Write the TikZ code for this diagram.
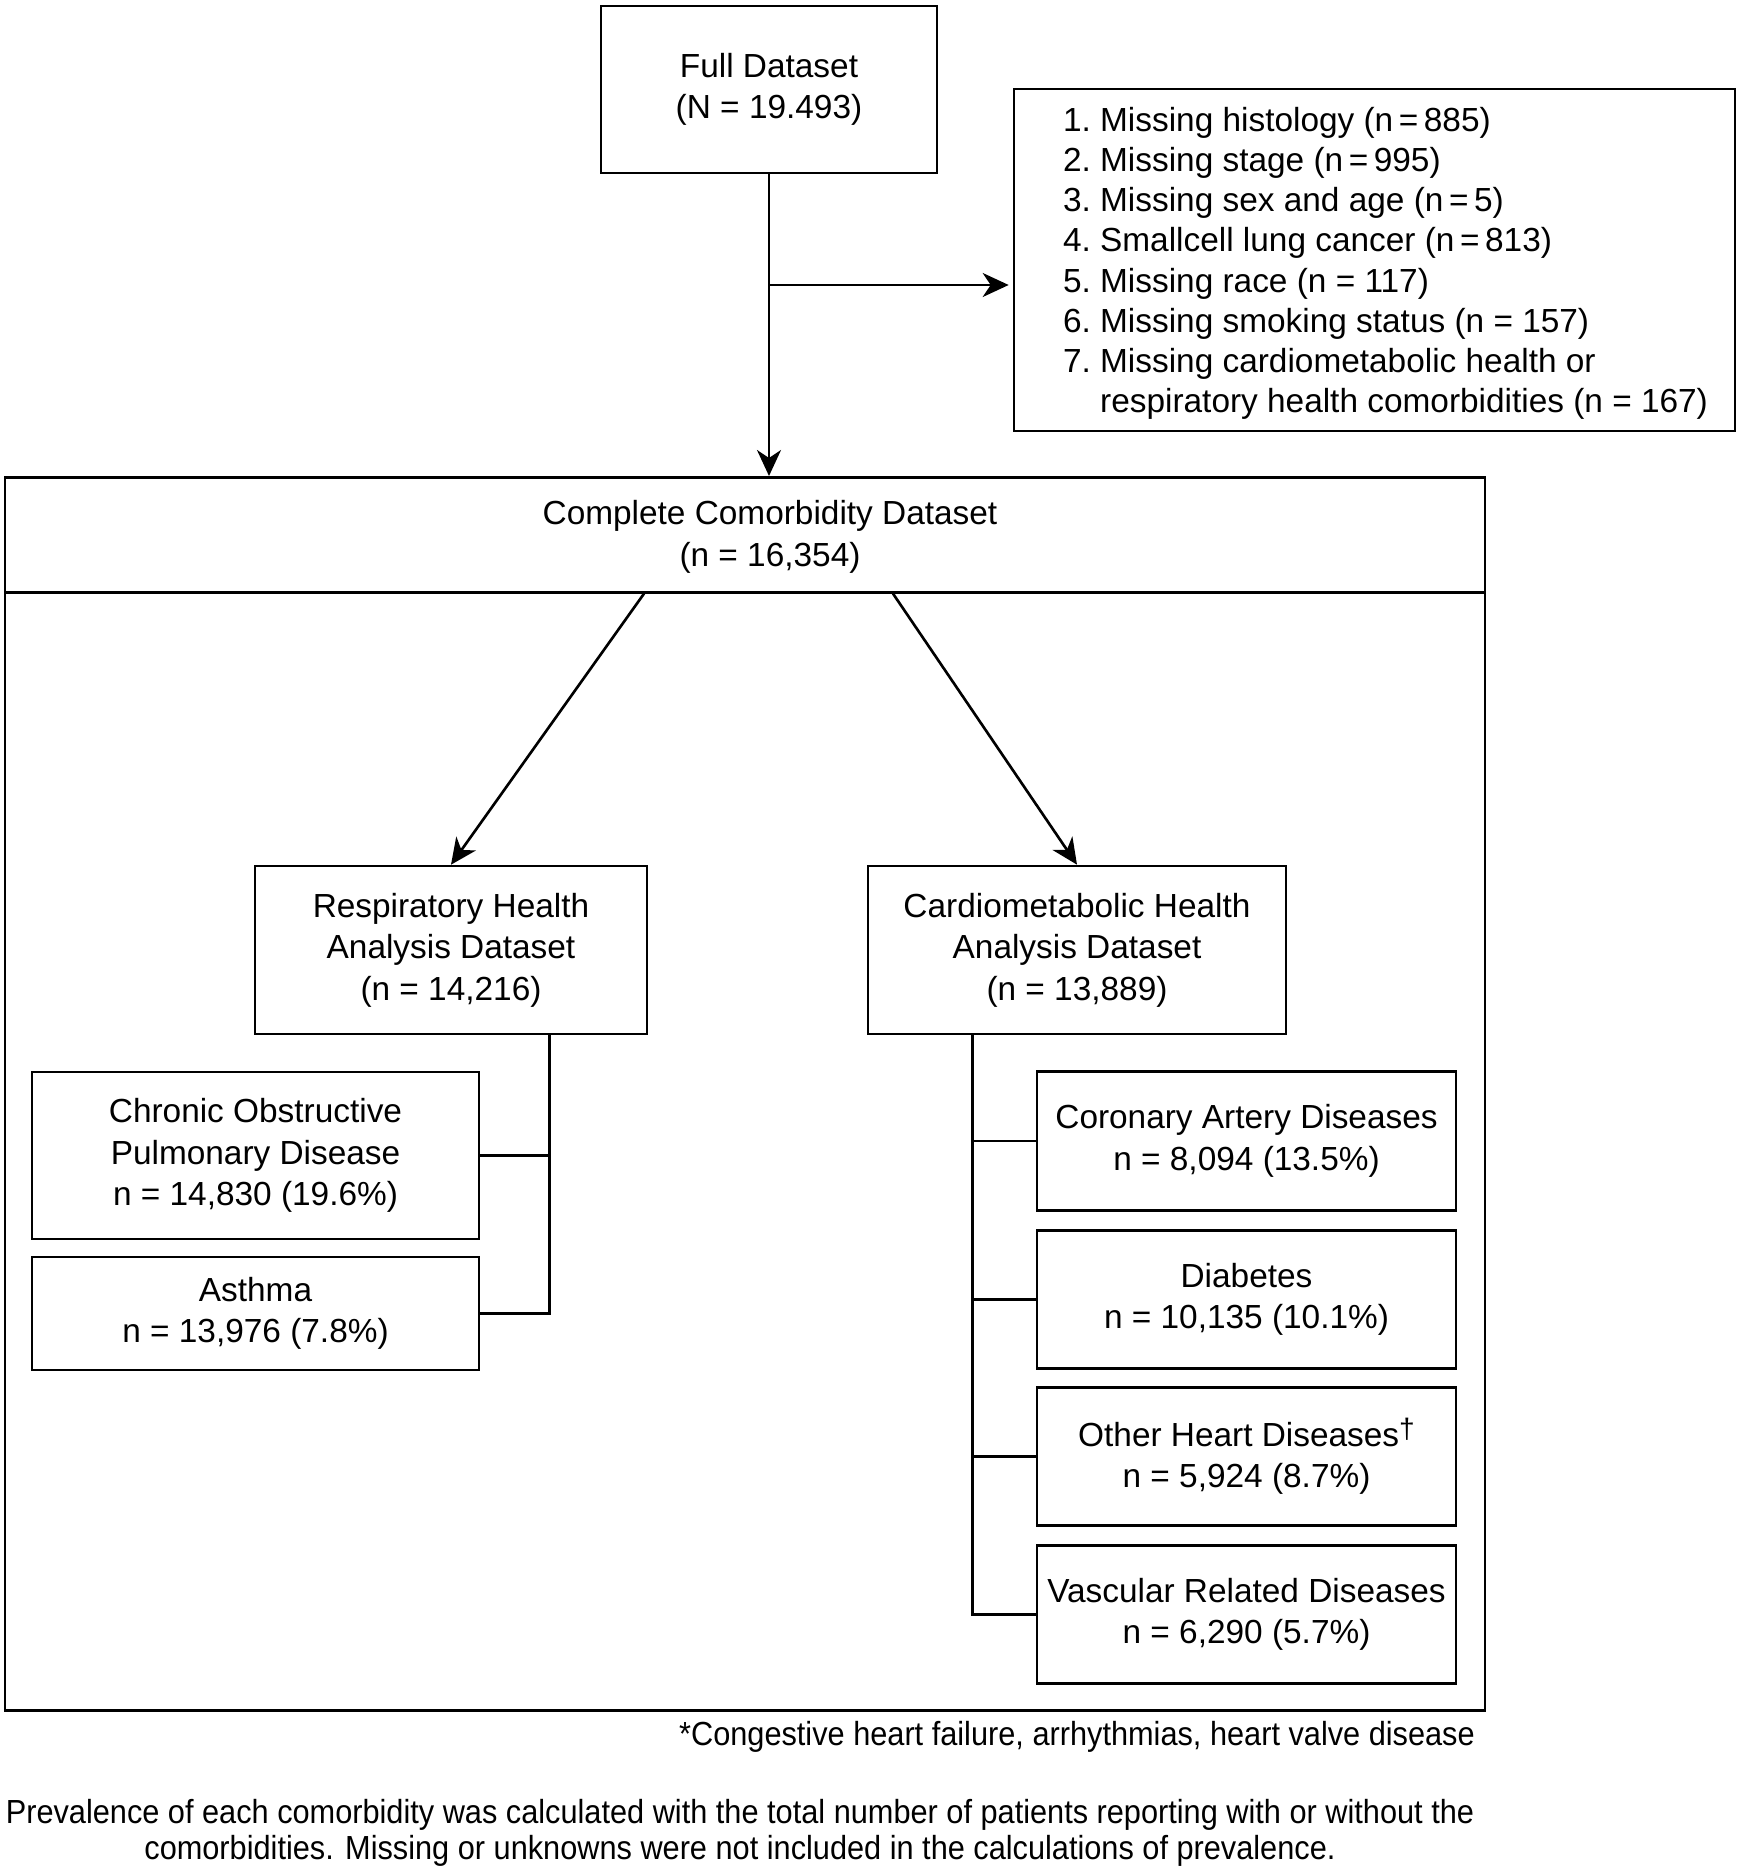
\documentclass[tikz,border=0pt]{standalone}
\usepackage{fontspec}
\setmainfont{Liberation Sans}
\usetikzlibrary{arrows.meta}

\begin{document}
\begin{tikzpicture}[%
		font=\fontsize{9.5pt}{11.8pt}\selectfont,
		line width=.75pt,
		arr/.style={-{Stealth[length=.26cm,width=.24cm,inset=.08cm]}},%
		box/.style={draw, align=center, inner sep=0pt},%
		note/.style={align=center, inner sep=0pt, xscale=.92, transform shape, font=\fontsize{9.5pt}{10.2pt}\selectfont}
		]
		\useasboundingbox (0,0) rectangle (17.40,-18.71);

		% full dataset and exclusions
		\node[box, minimum width=3.36cm, minimum height=1.67cm] (full) at (7.69,-.895) {Full Dataset\\(N = 19.493)};
		\node[draw, inner sep=0pt, minimum width=7.21cm, minimum height=3.42cm, font=\fontsize{9.5pt}{11.45pt}\selectfont] (excl) at (13.745,-2.60) {%
			\hspace*{.22cm}\raisebox{-.04cm}[\height][\depth]{\begin{tabular}{@{}r@{\ }l@{}}
				1. & Missing histology (n\,=\,885)\\
				2. & Missing stage (n\,=\,995)\\
				3. & Missing sex and age (n\,=\,5)\\
				4. & Smallcell lung cancer (n\,=\,813)\\
				5. & Missing race (n = 117)\\
				6. & Missing smoking status (n = 157)\\
				7. & Missing cardiometabolic health or\\
				   & respiratory health comorbidities (n = 167)
			\end{tabular}}};

		% complete dataset frame
		\node[draw, minimum width=14.80cm, minimum height=12.33cm, anchor=north] (frame) at (7.45,-4.76) {};
		\node[draw, minimum width=14.80cm, minimum height=1.15cm, anchor=north] (head) at (frame.north) {};
		\node[align=center] (headtxt) at (7.70,-5.37) {Complete Comorbidity Dataset\\(n = 16,354)};

		% analysis datasets
		\node[box, minimum width=3.92cm, minimum height=1.68cm] (resp) at (4.51,-9.50) {Respiratory Health\\Analysis Dataset\\(n = 14,216)};
		\node[box, minimum width=4.18cm, minimum height=1.68cm] (cardio) at (10.77,-9.50) {Cardiometabolic Health\\Analysis Dataset\\(n = 13,889)};

		% respiratory comorbidities
		\node[box, minimum width=4.47cm, minimum height=1.67cm] (copd) at (2.555,-11.555) {Chronic Obstructive\\Pulmonary Disease\\n = 14,830 (19.6\%)};
		\node[box, minimum width=4.47cm, minimum height=1.13cm] (asthma) at (2.555,-13.135) {Asthma\\n = 13,976 (7.8\%)};

		% cardiometabolic comorbidities
		\node[box, minimum width=4.19cm, minimum height=1.385cm] (cad) at (12.465,-11.41) {Coronary Artery Diseases\\n = 8,094 (13.5\%)};
		\node[box, minimum width=4.19cm, minimum height=1.385cm] (diab) at (12.465,-12.995) {Diabetes\\n = 10,135 (10.1\%)};
		\node[box, minimum width=4.19cm, minimum height=1.385cm] (other) at (12.465,-14.565) {Other Heart Diseases\raisebox{2.2pt}{\fontsize{8pt}{8pt}\selectfont †}\\n = 5,924 (8.7\%)};
		\node[box, minimum width=4.19cm, minimum height=1.385cm] (vasc) at (12.465,-16.145) {Vascular Related Diseases\\n = 6,290 (5.7\%)};

		% arrows
		\coordinate (split) at (full.south |- 0,-2.85);
		\draw[arr] (full.south) -- (full.south |- head.north);
		\draw[arr, shorten >=.04cm] (split) -- (split -| excl.west);
		\draw[arr] ([xshift=-1.01cm]head.south) -- (resp.north);
		\draw[arr] ([xshift=1.48cm]head.south) -- (cardio.north);

		% brackets
		\coordinate (rbus) at ([xshift=-.99cm]resp.south east);
		\draw (rbus) |- (asthma.east);
		\draw (rbus |- copd.east) -- (copd.east);
		\coordinate (cbus) at ([xshift=1.06cm]cardio.south west);
		\draw (cbus) |- (vasc.west);
		\draw (cbus |- cad.west) -- (cad.west);
		\draw (cbus |- diab.west) -- (diab.west);
		\draw (cbus |- other.west) -- (other.west);

		% notes
		\node[note, anchor=east] (fnote) at (14.76,-17.37) {*Congestive heart failure, arrhythmias, heart valve disease};
		\node[note] (prev) at (7.40,-18.33) {Prevalence of each comorbidity was calculated with the total number of patients reporting with or without the\\comorbidities. Missing or unknowns were not included in the calculations of prevalence.};
	\end{tikzpicture}
\end{document}
